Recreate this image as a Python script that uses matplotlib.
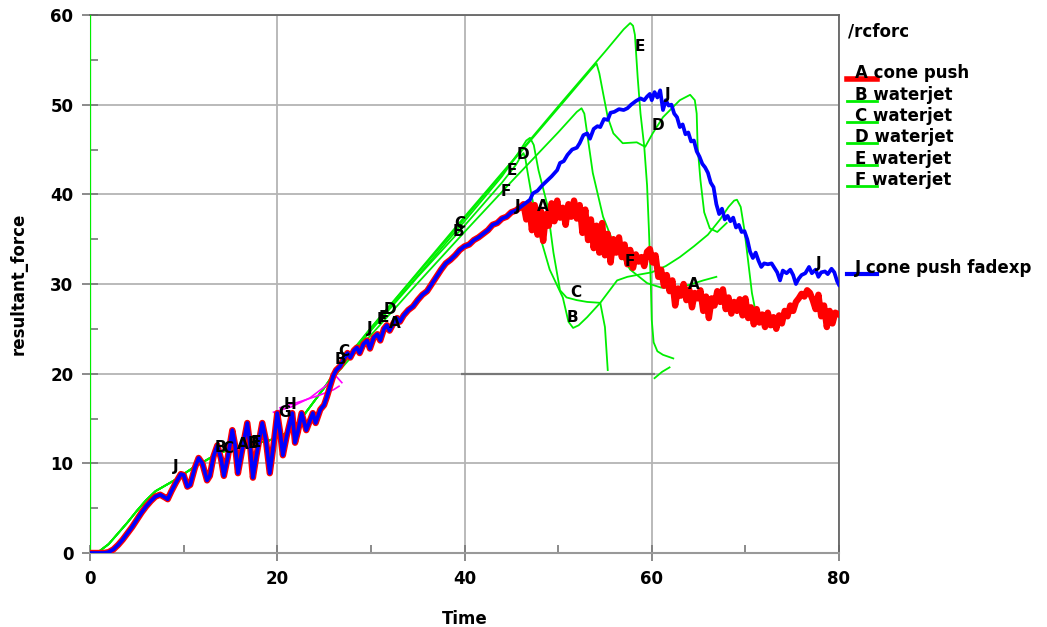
import numpy as np
import matplotlib
matplotlib.use("Agg")
import matplotlib.pyplot as plt
from matplotlib.lines import Line2D

# ---------------- data ----------------
# shared rising part of A (cone push) and J (cone push fadexp)
rise_x = [0, 1.5, 2.0, 2.5, 3, 3.5, 4, 4.5, 5, 5.5, 6, 6.5, 7, 7.5, 8, 8.3, 8.7, 9.2, 9.7, 10.0,
          10.4, 10.7, 11.2, 11.6, 12.0, 12.5, 12.8, 13.2, 13.6, 14.0, 14.3, 14.7, 15.2, 15.5, 15.8,
          16.2, 16.8, 17.1, 17.4, 17.8, 18.4, 18.8, 19.2, 19.6, 20.0, 20.3, 20.6, 21.0, 21.6, 21.9,
          22.2, 22.6, 23.1, 23.4, 23.8, 24.1, 24.6, 25.0, 25.3, 25.7, 26.0, 26.3, 26.7, 27.1, 27.5,
          27.8, 28.2, 28.5, 28.8, 29.2, 29.6, 29.9, 30.3, 30.7, 31.0, 31.4, 31.7, 32.0, 32.4, 32.8,
          33.1, 33.5, 34.0, 34.5, 35.0, 35.5, 36.0, 36.5, 37.0, 37.5, 38.0, 38.5, 39.0, 39.5, 40.0,
          40.5, 41.0, 41.5, 42.0, 42.5, 43.0, 43.5, 44.0, 44.5, 45.0, 45.5, 46.0]
rise_y = [0, 0, 0.1, 0.4, 0.9, 1.5, 2.2, 2.9, 3.7, 4.5, 5.2, 5.8, 6.3, 6.5, 6.2, 6.0, 6.9, 7.9, 8.8, 8.7,
          7.4, 7.6, 9.5, 10.6, 10.0, 8.1, 8.6, 10.8, 12.0, 10.5, 8.6, 10.6, 13.7, 12.0, 8.9,
          11.2, 14.5, 12.0, 8.4, 11.0, 14.5, 12.5, 8.9, 12.0, 15.6, 13.5, 10.9, 13.0, 15.6, 12.3,
          13.5, 15.6, 13.7, 14.5, 15.6, 14.5, 16.0, 16.5, 17.4, 18.8, 19.8, 20.4, 20.8, 21.6, 22.3,
          21.8, 22.6, 22.9, 22.3, 23.3, 23.7, 22.8, 24.0, 24.4, 23.7, 25.0, 25.4, 24.8, 25.6, 26.2,
          25.8, 26.5, 27.1, 27.5, 28.2, 28.8, 29.2, 30.0, 30.8, 31.6, 32.3, 32.7, 33.2, 33.8, 34.2,
          34.4, 34.9, 35.2, 35.6, 36.0, 36.6, 36.8, 37.3, 37.5, 38.0, 38.2, 38.6]

a_tail_x = [46.3, 46.6, 46.9, 47.2, 47.5, 47.8, 48.1, 48.4, 48.7, 49.0, 49.3, 49.6, 49.9, 50.2, 50.5,
            50.8, 51.1, 51.4, 51.7, 52.0, 52.3, 52.6, 52.9, 53.2, 53.5, 53.8, 54.1, 54.4, 54.7, 55.0,
            55.3, 55.6, 55.9, 56.2, 56.5, 56.8, 57.1, 57.4, 57.7, 58.0, 58.3, 58.6, 58.9, 59.2, 59.5,
            59.8, 60.1, 60.4, 60.7, 61.0, 61.3, 61.6, 61.9, 62.2, 62.5, 62.8, 63.1, 63.4, 63.7, 64.0,
            64.3, 64.6, 64.9, 65.2, 65.5, 65.8, 66.1, 66.4, 66.7, 67.0, 67.3, 67.6, 67.9, 68.2, 68.5,
            68.8, 69.1, 69.4, 69.7, 70.0, 70.3, 70.6, 70.9, 71.2, 71.5, 71.8, 72.1, 72.4, 72.7, 73.0,
            73.3, 73.6, 73.9, 74.2, 74.5, 74.8, 75.1, 75.4, 75.7, 76.0, 76.3, 76.6, 76.9, 77.2, 77.5,
            77.8, 78.1, 78.4, 78.7, 79.0, 79.3, 79.6, 80.0]
a_tail_y = [38.9, 37.2, 39.0, 36.0, 38.8, 35.5, 38.3, 34.8, 37.8, 36.5, 39.0, 37.0, 39.3, 37.4, 38.5,
            36.6, 38.9, 37.5, 39.3, 37.3, 38.8, 35.7, 38.3, 34.9, 37.2, 34.0, 36.5, 33.5, 36.8, 33.2,
            35.6, 32.4, 35.0, 33.5, 35.2, 33.0, 34.4, 32.2, 33.8, 31.8, 33.3, 32.5, 33.0, 32.0, 33.6,
            33.9, 32.4, 33.2, 30.8, 31.6, 29.8, 31.0, 29.2, 30.4, 27.6, 29.5, 28.7, 30.0, 28.2, 29.4,
            27.4, 29.0, 28.4, 29.3, 27.0, 28.6, 26.2, 28.4, 27.6, 29.2, 28.0, 29.4, 27.2, 28.5, 26.7,
            28.0, 27.0, 28.3, 26.5, 28.4, 26.2, 27.4, 25.5, 27.2, 25.7, 26.6, 25.2, 26.8, 25.4, 26.3,
            25.0, 26.5, 25.6, 27.0, 26.4, 27.6, 27.0, 28.0, 28.4, 28.9, 28.6, 29.3, 29.0, 28.2, 27.2,
            28.8, 26.4, 27.6, 25.2, 27.0, 25.6, 26.8, 26.6]

j_tail_x = [46.5, 47.0, 47.3, 47.8, 48.3, 48.8, 49.3, 49.9, 50.2, 50.6, 51.0, 51.5, 52.0, 52.3, 52.7,
            53.1, 53.4, 53.8, 54.2, 54.5, 54.9, 55.3, 55.6, 56.0, 56.5, 57.0, 57.4, 57.8, 58.3, 58.8,
            59.2, 59.5, 59.8, 60.0, 60.3, 60.6, 60.9, 61.2, 61.5, 61.8, 62.1, 62.4, 62.7, 63.0, 63.3,
            63.6, 63.9, 64.2, 64.5, 64.8, 65.1, 65.4, 65.7, 66.0, 66.3, 66.6, 66.9, 67.2, 67.5, 67.8,
            68.1, 68.4, 68.7, 69.0, 69.3, 69.6, 69.9, 70.2, 70.5, 70.8, 71.1, 71.4, 71.7, 72.0, 72.4,
            72.8, 73.1, 73.4, 73.7, 74.0, 74.4, 74.8, 75.1, 75.4, 75.7, 76.0, 76.4, 76.8, 77.1, 77.5,
            77.8, 78.1, 78.5, 78.8, 79.2, 79.5, 79.8, 80.0]
j_tail_y = [39.0, 39.4, 40.1, 40.4, 41.0, 41.5, 42.0, 42.7, 43.5, 43.7, 44.4, 45.0, 45.2, 45.7, 46.6,
            46.8, 46.2, 47.3, 47.6, 47.5, 48.4, 48.3, 49.1, 49.2, 49.5, 49.4, 49.6, 50.0, 50.4, 50.7,
            50.5, 50.9, 51.2, 50.5, 51.4, 50.8, 51.6, 49.4, 50.5, 49.9, 50.0, 49.0, 48.6, 47.5, 47.8,
            46.7, 46.9, 45.9, 46.0, 44.8, 44.2, 43.4, 43.0, 42.4, 41.3, 40.8, 38.9, 37.8, 38.4, 37.2,
            37.6, 37.0, 37.4, 36.3, 36.6, 35.8, 35.9, 35.0, 33.6, 32.9, 33.5, 32.6, 31.9, 32.3, 32.2,
            32.3, 31.8, 31.3, 30.4, 31.5, 31.2, 31.6, 31.0, 30.0, 30.6, 31.0, 31.2, 31.9, 31.2, 31.6,
            30.8, 31.3, 31.4, 31.1, 31.7, 31.3, 30.3, 29.9]

# shared start of the waterjet curves
g_start_x = [0, 1, 2, 3, 4, 5, 6, 7, 8, 9, 10, 11, 12, 13, 14, 15, 16, 17, 18, 19, 20, 21, 22, 23, 24, 25]
g_start_y = [0, 0.2, 1.0, 2.2, 3.4, 4.7, 5.9, 6.9, 7.5, 8.1, 8.8, 9.5, 10.1, 10.7, 11.2, 11.6, 11.9,
             12.1, 12.3, 12.5, 12.9, 13.4, 14.3, 15.6, 17.0, 18.4]

b_x = [26, 30, 35, 40, 44, 45.5, 46.0, 46.3, 46.5, 46.7, 47.2, 48.1, 49.1, 50.5, 51.1, 51.6, 52.2,
       53.1, 54.5, 56.3, 57.4, 58.4, 60.0, 61.5, 63.0, 64.5, 66.0, 67.3, 68.2, 68.8, 69.1, 69.5, 69.9,
       70.3, 70.7, 71.0]
b_y = [19.8, 24.8, 30.8, 36.5, 41.3, 43.3, 44.2, 44.6, 44.0, 42.7, 39.7, 35.2, 31.6, 28.5, 25.8, 25.1,
       25.4, 26.3, 27.9, 30.4, 30.8, 31.0, 31.3, 32.0, 33.0, 34.2, 35.5, 37.2, 38.6, 39.3, 39.4, 38.6,
       36.0, 32.5, 29.0, 27.4]

c_x = [26, 30, 35, 40, 44, 46.0, 46.6, 47.0, 47.4, 47.9, 48.8, 49.5, 50.2, 50.9, 52.0, 53.1, 54.5,
       55.0, 55.3, np.nan, 60.3, 61.1, 61.9]
c_y = [19.9, 24.9, 30.9, 37.0, 42.0, 45.0, 46.0, 46.3, 45.5, 42.7, 39.0, 33.5, 29.3, 28.5, 28.2,
       28.0, 27.9, 25.2, 20.4, np.nan, 19.5, 20.2, 20.7]

d_x = [26, 30, 35, 40, 45, 50, 53.5, 54.1, 54.4, 54.8, 55.3, 55.9, 56.9, 58.4, 59.3, 60.1, 61.2, 63.0,
       64.1, 64.6, 64.8, 64.9, 65.2, 65.6, 66.2, 67.0, 68.0]
d_y = [20.0, 25.1, 31.2, 37.3, 43.5, 49.6, 53.9, 54.6, 53.5, 51.3, 48.6, 46.8, 45.7, 45.8, 45.3, 46.8,
       48.6, 50.5, 51.1, 50.5, 49.0, 45.3, 41.6, 38.0, 36.2, 35.8, 36.8]

e_x = [26, 30, 35, 40, 45, 50, 55, 57.0, 57.7, 58.0, 58.2, 58.5, 58.8, 59.2, 59.5, 59.7, 59.9, 60.0,
       60.2, 60.6, 61.2, 62.3]
e_y = [19.9, 25.1, 31.3, 37.5, 43.6, 49.8, 55.9, 58.4, 59.1, 58.8, 57.8, 53.0, 49.0, 45.3, 41.0, 36.0,
       30.0, 26.0, 23.5, 22.5, 22.1, 21.7]

f_x = [0, 0, 26, 30, 35, 40, 45, 50, 52.0, 52.5, 52.8, 53.1, 53.7, 54.8, 55.9, 57.7, 59.5, 61.0,
       62.5, 64.0, 65.5, 66.9]
f_y = [75, 0, 19.6, 24.3, 30.1, 35.8, 41.4, 46.9, 49.2, 49.6, 49.0, 46.8, 42.4, 37.5, 34.6, 31.6,
       30.1, 29.6, 29.6, 29.9, 30.4, 30.8]

g_x = [19.6, 21.5, 23.5, 25.0, 26.3, 26.9]
g_y = [15.7, 16.3, 17.3, 18.5, 19.7, 19.0]
h_x = [20.3, 22.5, 24.5, 26.0, 26.6]
h_y = [16.2, 16.9, 17.6, 18.2, 18.6]

# curve letter labels (text, time, force)
curve_labels = [("B", 13.9, 11.8), ("C", 14.7, 11.6), ("A", 16.3, 12.1), ("B", 17.5, 12.2),
                ("E", 17.7, 12.3), ("G", 20.8, 15.7), ("H", 21.4, 16.6), ("B", 26.8, 21.6),
                ("C", 27.1, 22.5), ("J", 29.9, 25.0), ("F", 31.2, 26.0), ("E", 31.4, 26.3),
                ("D", 32.0, 27.2), ("A", 32.6, 25.6), ("C", 39.5, 36.7), ("B", 39.3, 35.8),
                ("F", 44.4, 40.3), ("E", 45.0, 42.7), ("D", 46.2, 44.4), ("J", 45.7, 38.6),
                ("A", 48.4, 38.6), ("C", 51.9, 29.1), ("B", 51.5, 26.3), ("F", 57.7, 32.5),
                ("E", 58.7, 56.5), ("D", 60.7, 47.7), ("J", 61.7, 51.1), ("A", 64.5, 29.9),
                ("J", 77.8, 32.3), ("J", 9.2, 9.7)]

legend_entries = [("A", "cone push", "#ff0000"), ("B", "waterjet", "#00ee00"),
                  ("C", "waterjet", "#00ee00"), ("D", "waterjet", "#00ee00"),
                  ("E", "waterjet", "#00ee00"), ("F", "waterjet", "#00ee00")]
legend_last = ("J", "cone push fadexp", "#0000ff")

x_ticks = [0, 20, 40, 60, 80]
y_ticks = [0, 10, 20, 30, 40, 50, 60]

# ---------------- figure ----------------
W, H = 1047, 627
fig = plt.figure(figsize=(W / 100, H / 100), dpi=100)
ax = fig.add_axes([90 / W, 1 - 553 / H, (839 - 90) / W, (553 - 15) / H])

GREEN = "#00ee00"
RED = "#ff0000"
BLUE = "#0000ff"
MAG = "#ff00ff"

a_x = rise_x + a_tail_x
a_y = rise_y + a_tail_y
j_x = rise_x + j_tail_x
j_y = rise_y + j_tail_y

for cx, cy in [(b_x, b_y), (c_x, c_y), (d_x, d_y), (e_x, e_y)]:
    ax.plot(g_start_x + cx, g_start_y + cy, color=GREEN, lw=1.3, zorder=3)
ax.plot(f_x[:2], f_y[:2], color=GREEN, lw=1.6, zorder=3)
ax.plot(g_start_x + f_x[2:], g_start_y + f_y[2:], color=GREEN, lw=1.3, zorder=3)
ax.plot(g_x, g_y, color=MAG, lw=1.2, zorder=3)
ax.plot(h_x, h_y, color=MAG, lw=1.2, zorder=3)
ax.plot(a_x, a_y, color=RED, lw=4.6, zorder=4, solid_joinstyle="round")
ax.plot(j_x, j_y, color=BLUE, lw=2.7, zorder=5, solid_joinstyle="round")

for t, xx, yy in curve_labels:
    ax.text(xx, yy, t, fontsize=11, fontweight="bold", color="black",
            ha="center", va="center", zorder=6)

ax.set_xlim(x_ticks[0], x_ticks[-1])
ax.set_ylim(y_ticks[0], y_ticks[-1])
ax.set_xticks(x_ticks)
ax.set_yticks(y_ticks)
ax.set_xticks([v + 10 for v in x_ticks[:-1]], minor=True)
ax.set_yticks([v + 5 for v in y_ticks[:-1]], minor=True)
ax.grid(True, which="major", color="#b4b4b4", lw=1.3, zorder=1)
ax.tick_params(which="major", direction="inout", length=12, width=1.2, color="#777777",
               labelsize=12, pad=6)
ax.tick_params(which="minor", direction="in", length=6, width=1.2, color="#777777")
for lab in ax.get_xticklabels() + ax.get_yticklabels():
    lab.set_fontweight("bold")
for s in ["top", "right"]:
    ax.spines[s].set_color("#666666")
    ax.spines[s].set_linewidth(1.3)
ax.spines["bottom"].set_color("#999999")
ax.spines["bottom"].set_linewidth(1.5)
ax.spines["left"].set_color("#999999")

# frame line of the redrawn lower-right block
ax.hlines(y_ticks[2], x_ticks[2] - 0.4, x_ticks[3] + 0.4, color="#777777", lw=1.6, zorder=2)

ax.set_xlabel("Time", fontsize=12, fontweight="bold", labelpad=16)
ax.set_ylabel("resultant_force", fontsize=12, fontweight="bold", labelpad=16)

# legend (drawn by hand)
fig.text(848 / W, 1 - 31 / H, "/rcforc", fontsize=12, fontweight="bold", va="center", ha="left")
row_y = [73, 95, 116, 137, 159, 180]
for (letter, name, col), yy in zip(legend_entries, row_y):
    lw = 4 if col == RED else 2
    fig.add_artist(Line2D([847 / W, 877 / W], [1 - (yy + 6) / H] * 2, color=col, lw=lw))
    fig.text(855 / W, 1 - yy / H, letter + " " + name, fontsize=12, fontweight="bold",
             va="center", ha="left")
letter, name, col = legend_last
fig.add_artist(Line2D([847 / W, 877 / W], [1 - 274 / H] * 2, color=col, lw=3))
fig.text(855 / W, 1 - 268 / H, letter + " " + name, fontsize=12, fontweight="bold",
         va="center", ha="left")

fig.savefig("out.png", dpi=100)
